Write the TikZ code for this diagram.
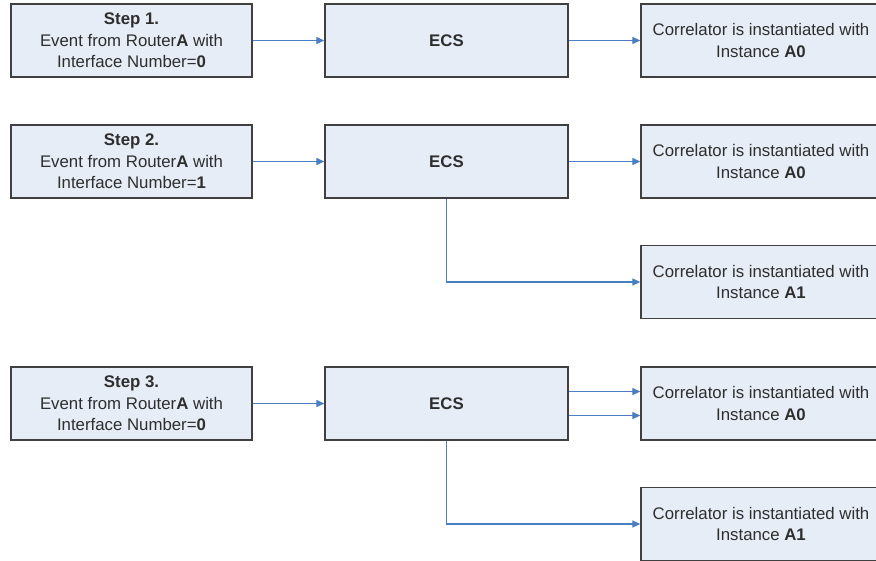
\documentclass[tikz,border=0pt]{standalone}
\usepackage{fontspec}
\setmainfont{Liberation Sans}
\usetikzlibrary{arrows.meta}
\definecolor{boxfill}{HTML}{E7EDF7}
\definecolor{boxline}{HTML}{404040}
\definecolor{textgray}{HTML}{2E2E2E}
\definecolor{arrowblue}{HTML}{4A7EC4}
\begin{document}
\begin{tikzpicture}[x=1pt,y=-1pt,
  box/.style={draw=boxline, line width=1.3pt, fill=boxfill, minimum height=73pt,
    inner sep=0pt, align=center, text=textgray, font=\fontsize{16.8}{21.5}\selectfont},
  leftbox/.style={box, minimum width=241pt},
  ecsbox/.style={box, minimum width=243pt},
  corbox/.style={box, minimum width=240pt},
  conn/.style={draw=arrowblue, line width=1.2pt, -{Triangle[length=8pt,width=7pt]}}]
\useasboundingbox (0,0) rectangle (876,560);
\clip (0,0) rectangle (876,560);
% Step 1
\node[leftbox] (s1) at (131.5,40.5) {\textbf{Step 1.}\\Event from Router\textbf{A} with\\Interface Number=\textbf{0}};
\node[ecsbox] (e1) at (446.5,40.5) {\textbf{ECS}};
\node[corbox] (r1) at (761,40.5) {Correlator is instantiated with\\Instance \textbf{A0}};
% Step 2
\node[leftbox] (s2) at (131.5,161.5) {\textbf{Step 2.}\\Event from Router\textbf{A} with\\Interface Number=\textbf{1}};
\node[ecsbox] (e2) at (446.5,161.5) {\textbf{ECS}};
\node[corbox] (r2) at (761,161.5) {Correlator is instantiated with\\Instance \textbf{A0}};
\node[corbox] (r2b) at (761,282) {Correlator is instantiated with\\Instance \textbf{A1}};
% Step 3
\node[leftbox] (s3) at (131.5,403.5) {\textbf{Step 3.}\\Event from Router\textbf{A} with\\Interface Number=\textbf{0}};
\node[ecsbox] (e3) at (446.5,403.5) {\textbf{ECS}};
\node[corbox] (r3) at (761,403.5) {Correlator is instantiated with\\Instance \textbf{A0}};
\node[corbox] (r3b) at (761,524) {Correlator is instantiated with\\Instance \textbf{A1}};
% connectors
\draw[conn] (s1) -- (e1);
\draw[conn] (e1) -- (r1);
\draw[conn] (s2) -- (e2);
\draw[conn] (e2) -- (r2);
\draw[conn] (e2.south) |- (r2b.west);
\draw[conn] (s3) -- (e3);
\draw[conn] ([yshift=12pt]e3.east) -- ([yshift=12pt]r3.west);
\draw[conn] ([yshift=-12pt]e3.east) -- ([yshift=-12pt]r3.west);
\draw[conn] (e3.south) |- (r3b.west);
\end{tikzpicture}
\end{document}
